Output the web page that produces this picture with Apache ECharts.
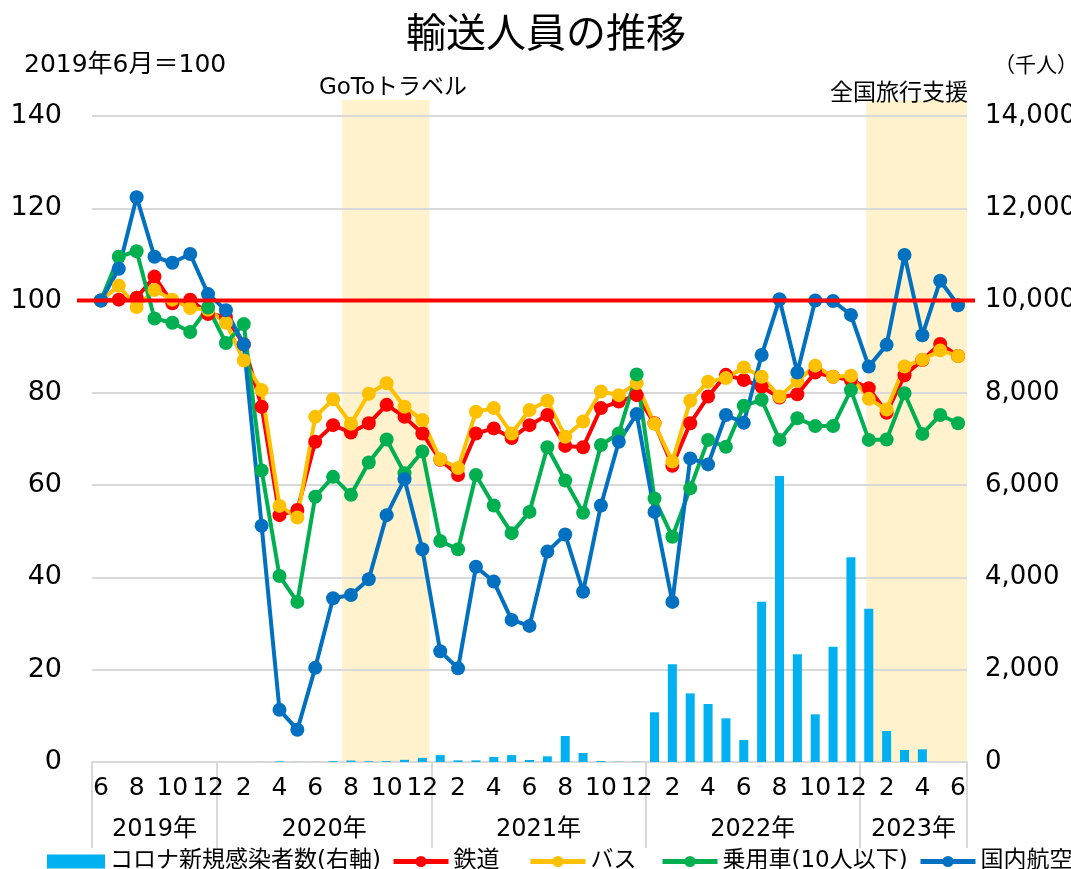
<!DOCTYPE html>
<html><head><meta charset="utf-8">
<script src="https://cdn.jsdelivr.net/npm/echarts@6/dist/echarts.min.js"></script>
<style>html,body{margin:0;padding:0;background:#fff}#c{width:1071px;height:869px}</style>
</head><body><div id="c"></div>
<script>
const categories = [
 '2019/6','2019/7','2019/8','2019/9','2019/10','2019/11','2019/12',
 '2020/1','2020/2','2020/3','2020/4','2020/5','2020/6','2020/7','2020/8','2020/9','2020/10','2020/11','2020/12',
 '2021/1','2021/2','2021/3','2021/4','2021/5','2021/6','2021/7','2021/8','2021/9','2021/10','2021/11','2021/12',
 '2022/1','2022/2','2022/3','2022/4','2022/5','2022/6','2022/7','2022/8','2022/9','2022/10','2022/11','2022/12',
 '2023/1','2023/2','2023/3','2023/4','2023/5','2023/6'];
const yearNames = ['2019','2020','2021','2022','2023'];
const covidCases = [0,0,0,0,0,0,0, 0,0.3,1.8,12,2.5,1.7,17,32,15,18,47,90,
 150,36,36,108,150,43,123,563,195,20,5,6,
 1077,2117,1488,1257,947,477,3474,6198,2334,1033,2499,4436,
 3322,672,260,275,null,null];
const rail = [100,100.2,100.6,105.2,99.4,100.2,97.1, 96.5,90.5,77.0,53.5,54.6,69.4,73.0,71.4,73.4,77.4,74.8,71.2,
 65.5,62.2,71.2,72.3,70.2,73.0,75.2,68.5,68.2,76.7,78.1,79.5,
 73.4,64.2,73.4,79.2,83.9,82.8,81.3,79.0,79.7,84.4,83.5,82.8,
 81.0,75.7,83.8,87.1,90.6,88.0];
const bus = [100,103.2,98.6,102.3,100.2,98.4,98.0, 95.2,87.0,80.6,55.5,53.0,74.8,78.6,73.3,79.8,82.1,77.0,74.1,
 65.6,63.7,75.9,76.7,71.2,76.3,78.3,70.5,73.8,80.3,79.5,82.1,
 73.3,65.1,78.3,82.4,83.2,85.5,83.5,79.2,82.6,85.9,83.5,83.7,
 78.7,76.4,85.7,87.2,89.2,88.0];
const car = [100,109.5,110.7,96.1,95.2,93.2,98.5, 90.8,94.9,63.2,40.3,34.7,57.5,61.8,57.9,64.9,69.9,62.6,67.3,
 47.9,46.1,62.2,55.6,49.6,54.2,68.2,61.0,54.0,68.7,71.2,84.0,
 57.1,48.8,59.3,69.8,68.3,77.2,78.5,69.8,74.5,72.8,72.8,80.6,
 69.8,69.9,79.9,71.1,75.2,73.4];
const air = [100,106.9,122.4,109.5,108.2,110.1,101.4, 97.9,90.5,51.2,11.3,7.0,20.4,35.5,36.2,39.6,53.5,61.3,46.1,
 24.0,20.3,42.3,39.1,30.8,29.5,45.6,49.3,36.9,55.6,69.4,75.4,
 54.2,34.7,65.8,64.5,75.2,73.5,88.2,100.3,84.4,100.0,99.9,96.9,
 85.7,90.4,109.9,92.5,104.3,99.0];
// campaign periods (category index units, fractional = part of month)
const gotoPeriod = [13.5, 18.4];
const travelSupportPeriod = [42.86, 48.5];
const baseLine = 100;

const seriesNames = ['コロナ新規感染者数(右軸)','鉄道','バス','乗用車(10人以下)','国内航空'];
const CJK = '"Noto Sans CJK JP", sans-serif';
const FONT = '"DejaVu Sans", "Noto Sans CJK JP", sans-serif';

// year groups from categories
const yearBounds = [], yearCenters = [], yearLabelMap = {};
yearNames.forEach(y => {
  const idx = categories.map((c,i)=>c.startsWith(y+'/')?i:-1).filter(i=>i>=0);
  const a = idx[0], b = idx[idx.length-1];
  yearBounds.push(a-0.5);
  yearCenters.push((a+b)/2);
  yearLabelMap[((a+b)/2).toFixed(2)] = y + '年';
});
yearBounds.push(categories.length-0.5);

const chart = echarts.init(document.getElementById('c'), null, {renderer:'canvas'});
const gridLine = '#d9d9d9';
const lineSeries = (name, data, color) => ({
  name, type:'line', data, xAxisIndex:0, yAxisIndex:0,
  symbol:'circle', symbolSize:14, showSymbol:true, showAllSymbol:true,
  lineStyle:{color, width:4}, itemStyle:{color}, z:3, animation:false
});
const shade = (p) => ({
  type:'line', xAxisIndex:3, yAxisIndex:2, data:[[p[0],1],[p[1],1]],
  symbol:'none', lineStyle:{width:0}, areaStyle:{color:'#fff2cc', opacity:1},
  silent:true, z:-1, animation:false
});
const legendBase = {top:845, itemHeight:14, itemWidth:55,
  lineStyle:{width:5},
  textStyle:{fontSize:23, color:'#000', fontFamily:FONT}};
const gridBase = {outerBoundsMode:'none', containLabel:false};
chart.setOption({
  animation:false,
  textStyle:{fontFamily:FONT},
  grid:[
    Object.assign({left:92,right:104,top:116,bottom:107}, gridBase),
    Object.assign({left:92,right:104,top:100,bottom:107}, gridBase),
    Object.assign({left:77,right:96,top:116,bottom:107}, gridBase)
  ],
  graphic:[
    {type:'text', x:546, y:32, style:{text:'輸送人員の推移', font:'40px '+CJK, fill:'#000', textAlign:'center', textVerticalAlign:'middle'}},
    {type:'text', x:24, y:65, style:{text:'2019年6月＝100', font:'25px '+FONT, fill:'#000', textVerticalAlign:'middle'}},
    {type:'text', x:994, y:64, style:{text:'（千人）', font:'21px '+CJK, fill:'#000', textVerticalAlign:'middle'}},
    {type:'text', x:393, y:88, style:{text:'GoToトラベル', font:'23px '+FONT, fill:'#000', textAlign:'center', textVerticalAlign:'middle'}},
    {type:'text', x:968, y:91, style:{text:'全国旅行支援', font:'23px '+CJK, fill:'#000', textAlign:'right', textVerticalAlign:'middle'}}
  ],
  legend:[
    Object.assign({}, legendBase, {left:42, itemWidth:58, data:[{name:seriesNames[0], icon:'rect'}]}),
    Object.assign({}, legendBase, {left:386, data:[seriesNames[1]]}),
    Object.assign({}, legendBase, {left:523, data:[seriesNames[2]]}),
    Object.assign({}, legendBase, {left:655, data:[seriesNames[3]]}),
    Object.assign({}, legendBase, {left:913, data:[seriesNames[4]]})
  ],
  xAxis:[
    {type:'category', gridIndex:0, data:categories, boundaryGap:true,
     axisLine:{lineStyle:{color:gridLine, width:2}}, axisTick:{show:false},
     axisLabel:{interval:1, margin:14, fontSize:25, color:'#000', fontFamily:FONT,
       formatter:v=>v.split('/')[1]},
     splitLine:{show:false}},
    {type:'value', gridIndex:0, min:-0.5, max:categories.length-0.5, position:'bottom',
     axisLine:{show:false},
     axisTick:{show:true, customValues:yearBounds, length:86, lineStyle:{color:gridLine, width:2}},
     axisLabel:{customValues:yearCenters, margin:56, fontSize:24, color:'#000', fontFamily:FONT,
       formatter:v=>yearLabelMap[Number(v).toFixed(2)]||''},
     splitLine:{show:false}},
    {type:'value', gridIndex:2, min:0, max:1, show:false},
    {type:'value', gridIndex:1, min:-0.5, max:categories.length-0.5, show:false}
  ],
  yAxis:[
    {type:'value', gridIndex:0, min:0, max:140, interval:20, position:'left',
     axisLine:{show:false}, axisTick:{show:false},
     axisLabel:{margin:30, fontSize:27, color:'#000', fontFamily:FONT},
     splitLine:{lineStyle:{color:gridLine, width:2}}},
    {type:'value', gridIndex:0, min:0, max:14000, interval:2000, position:'right',
     axisLine:{show:false}, axisTick:{show:false},
     axisLabel:{margin:18, fontSize:26, color:'#000', fontFamily:FONT,
       formatter:v=>v.toLocaleString('en-US')},
     splitLine:{show:false}},
    {type:'value', gridIndex:1, min:0, max:1, show:false},
    {type:'value', gridIndex:2, min:0, max:140, show:false}
  ],
  series:[
    shade(gotoPeriod),
    shade(travelSupportPeriod),
    {name:seriesNames[0], type:'bar', data:covidCases, xAxisIndex:0, yAxisIndex:1,
     barWidth:9, itemStyle:{color:'#00b0f0'}, z:2},
    lineSeries(seriesNames[1], rail, '#ff0000'),
    lineSeries(seriesNames[2], bus, '#ffc000'),
    lineSeries(seriesNames[3], car, '#00b050'),
    lineSeries(seriesNames[4], air, '#0070c0'),
    {type:'line', xAxisIndex:2, yAxisIndex:3, data:[[0,baseLine],[1,baseLine]],
     symbol:'none', lineStyle:{color:'#ff0000', width:4}, z:10, silent:true}
  ]
});
</script></body></html>
